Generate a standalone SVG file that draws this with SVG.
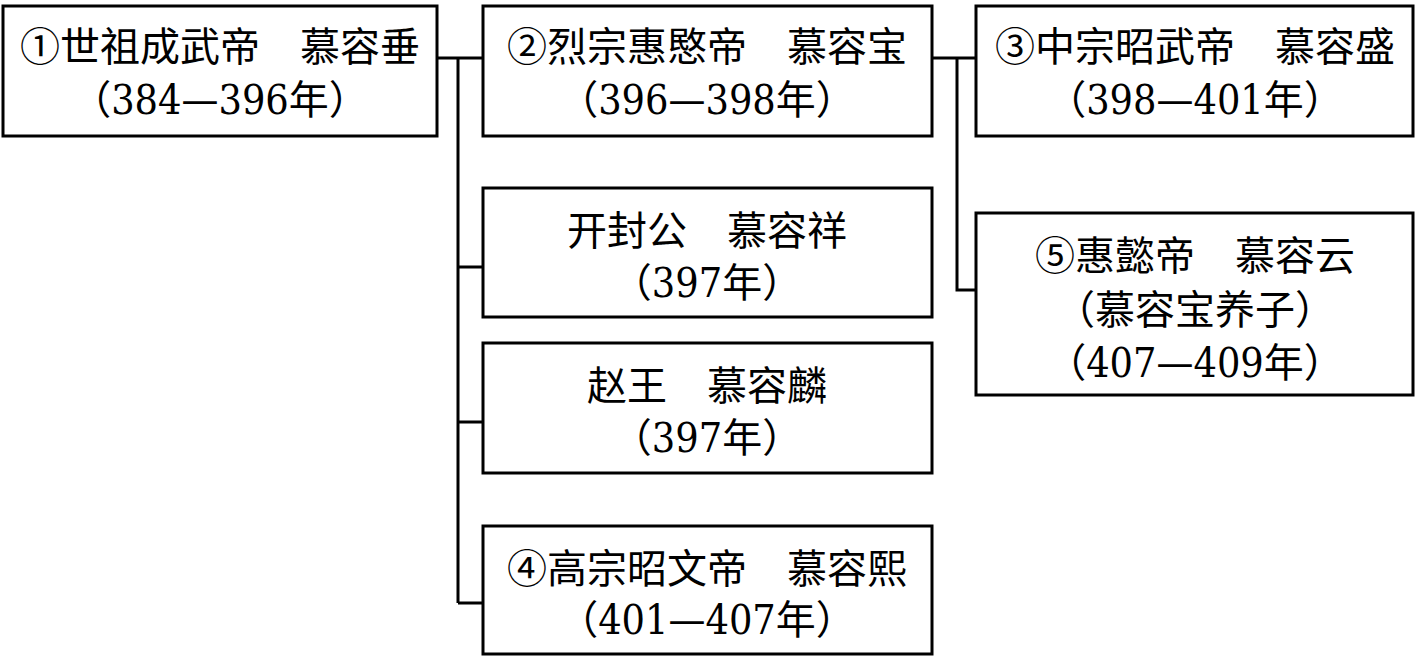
<svg xmlns="http://www.w3.org/2000/svg" width="1418" height="662" viewBox="0 0 1418 662">
<style>
.box{fill:#fff;stroke:#000;stroke-width:3}
.t{font-family:"Noto Sans CJK SC",sans-serif;font-size:40px;fill:#000;text-anchor:middle}
.n{font-family:"DejaVu Serif Condensed","DejaVu Serif",serif;font-stretch:condensed;font-size:41px}
.c{fill:none;stroke:#000;stroke-width:3}
</style>
<rect width="1418" height="662" fill="#fff"/>
<g id="connectors">
<path class="c" d="M437 58H483M458 58V603M458 267H483M458 422H483M458 603H483"/>
<path class="c" d="M932 58H976M957 58V290H976"/>
</g>
<g id="n1">
<rect class="box" x="3" y="6" width="434" height="130"/>
<text class="t" x="220" y="61">①世祖成武帝　慕容垂</text>
<text class="t" x="220" y="114">（<tspan class="n">384—396</tspan>年）</text>
</g>
<g id="n2">
<rect class="box" x="483" y="6" width="449" height="130"/>
<text class="t" x="707" y="61">②烈宗惠愍帝　慕容宝</text>
<text class="t" x="707" y="114">（<tspan class="n">396—398</tspan>年）</text>
</g>
<g id="n3">
<rect class="box" x="976" y="6" width="437" height="130"/>
<text class="t" x="1195" y="61">③中宗昭武帝　慕容盛</text>
<text class="t" x="1195" y="114">（<tspan class="n">398—401</tspan>年）</text>
</g>
<g id="n4">
<rect class="box" x="483" y="188" width="449" height="129"/>
<text class="t" x="707" y="245">开封公　慕容祥</text>
<text class="t" x="707" y="297">（<tspan class="n">397</tspan>年）</text>
</g>
<g id="n5">
<rect class="box" x="483" y="343" width="449" height="130"/>
<text class="t" x="707" y="400">赵王　慕容麟</text>
<text class="t" x="707" y="452">（<tspan class="n">397</tspan>年）</text>
</g>
<g id="n6">
<rect class="box" x="483" y="526" width="449" height="128"/>
<text class="t" x="707" y="583">④高宗昭文帝　慕容熙</text>
<text class="t" x="707" y="634">（<tspan class="n">401—407</tspan>年）</text>
</g>
<g id="n7">
<rect class="box" x="976" y="213" width="437" height="182"/>
<text class="t" x="1195" y="270">⑤惠懿帝　慕容云</text>
<text class="t" x="1195" y="324">（慕容宝养子）</text>
<text class="t" x="1195" y="377">（<tspan class="n">407—409</tspan>年）</text>
</g>
</svg>
